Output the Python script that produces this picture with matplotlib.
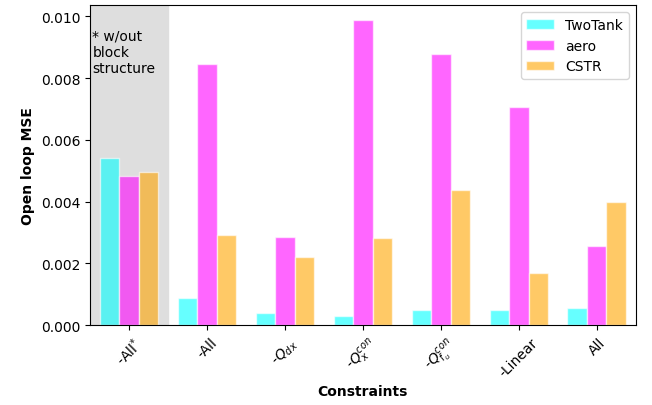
import matplotlib
matplotlib.use('Agg')
import matplotlib.pyplot as plt
import numpy as np

labels = [r'-All$^{*}$', '-All', r'-$Q_{dx}$', r'-$Q_{x}^{con}$',
          r'-$Q_{f_u}^{con}$', '-Linear', 'All']
twotank = [0.0054, 0.00087, 0.00039, 0.00029, 0.00048, 0.00048, 0.00055]
aero = [0.00482, 0.00846, 0.00286, 0.00987, 0.00878, 0.00707, 0.00257]
cstr = [0.00495, 0.00293, 0.00219, 0.00283, 0.00437, 0.0017, 0.00399]

x = np.arange(len(labels))
w = 0.25

fig = plt.figure(figsize=(6.52, 4.06), dpi=100)
ax = fig.add_axes([0.138, 0.197, 0.837, 0.788])

ax.axvspan(-0.5, 0.5, color='#dedede', zorder=0)
ax.bar(x - w, twotank, w, color='aqua', alpha=0.6, edgecolor='white', label='TwoTank', zorder=2)
ax.bar(x, aero, w, color='magenta', alpha=0.6, edgecolor='white', label='aero', zorder=2)
ax.bar(x + w, cstr, w, color='orange', alpha=0.6, edgecolor='white', label='CSTR', zorder=2)

ax.text(-0.47, 0.0096, '* w/out\nblock\nstructure', va='top', ha='left', fontsize=10)

ax.set_xlim(-0.5, 6.5)
ax.set_xticks(x)
ax.set_xticklabels(labels, rotation=45)
ax.set_yticks(np.arange(0, 0.0101, 0.002))
ax.set_xlabel('Constraints', fontweight='bold')
ax.set_ylabel('Open loop MSE', fontweight='bold')
ax.legend(loc='upper right')

fig.savefig('out.png', dpi=100)
plt.close(fig)
